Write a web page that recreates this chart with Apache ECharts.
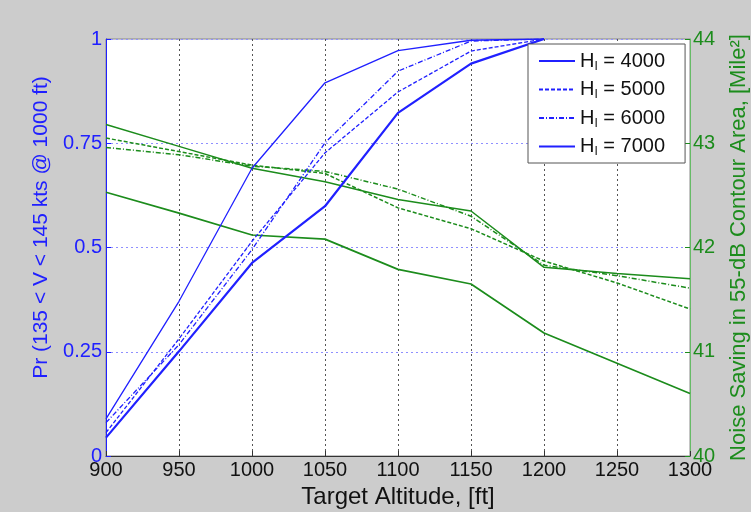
<!DOCTYPE html>
<html style="height: 100%">
<head>
    <meta charset="utf-8">
    <script src="https://cdn.jsdelivr.net/npm/echarts@6/dist/echarts.min.js"></script>
</head>
<body style="height: 100%; margin: 0; background: #cccccc">
    <div id="main" style="width: 751px; height: 512px"></div>
    <script type="text/javascript">
        // target altitude (ft)
        var altPr = [900, 950, 1000, 1050, 1100, 1150, 1200];
        var altNoise = [900, 950, 1000, 1050, 1100, 1150, 1200, 1250, 1300];

        // probability curves, left axis
        var prH4000 = [0.089, 0.371, 0.69, 0.895, 0.972, 0.997, 1];
        var prH5000 = [0.056, 0.281, 0.515, 0.727, 0.873, 0.971, 1];
        var prH6000 = [0.08, 0.267, 0.495, 0.751, 0.923, 0.995, 1];
        var prH7000 = [0.044, 0.251, 0.463, 0.599, 0.823, 0.941, 1];

        // noise saving curves, right axis (Mile^2)
        var noiseH4000 = [43.18, 42.97, 42.76, 42.63, 42.46, 42.35, 41.81, 41.75, 41.70];
        var noiseH5000 = [43.05, 42.92, 42.79, 42.71, 42.38, 42.18, 41.87, 41.66, 41.41];
        var noiseH6000 = [42.96, 42.89, 42.78, 42.73, 42.56, 42.30, 41.83, 41.73, 41.61];
        var noiseH7000 = [42.53, 42.33, 42.12, 42.08, 41.79, 41.65, 41.18, 40.89, 40.60];

        var legendNames = ['H4000', 'H5000', 'H6000', 'H7000'];

        var blue = '#2020ff';
        var green = '#1c8c1c';
        var font = 'Liberation Sans, Arial, sans-serif';

        function pairs(xs, ys) {
            return xs.map(function (x, i) { return [x, ys[i]]; });
        }

        function prLine(name, ys, type, width) {
            return {
                name: name, type: 'line', yAxisIndex: 0, symbol: 'none',
                data: pairs(altPr, ys),
                lineStyle: { color: blue, width: width, type: type },
                itemStyle: { color: blue },
                z: 3
            };
        }

        function noiseLine(ys, type, width) {
            return {
                type: 'line', yAxisIndex: 1, symbol: 'none',
                data: pairs(altNoise, ys),
                lineStyle: { color: green, width: width, type: type },
                itemStyle: { color: green },
                z: 2
            };
        }

        var myChart = echarts.init(document.getElementById('main'));

        var option = {
            backgroundColor: '#cccccc',
            animation: false,
            textStyle: { fontFamily: font },
            grid: {
                left: 106, right: 61, top: 39, bottom: 56,
                outerBoundsMode: 'none',
                show: true, backgroundColor: '#ffffff',
                borderColor: '#888888', borderWidth: 1
            },
            legend: {
                data: legendNames,
                orient: 'vertical',
                left: 528, top: 44,
                backgroundColor: '#ffffff',
                borderColor: '#555555', borderWidth: 1, borderRadius: 0,
                padding: [7, 20, 5, 10],
                itemWidth: 36, itemHeight: 14, itemGap: 7,
                itemStyle: { opacity: 0 },
                formatter: function (name) {
                    return 'H{s|I} = ' + name.slice(1);
                },
                textStyle: {
                    fontSize: 20, color: '#111111', fontFamily: font,
                    rich: { s: { fontSize: 12, verticalAlign: 'bottom', padding: [11, 0, 0, 0] } }
                }
            },
            xAxis: {
                type: 'value', min: 900, max: 1300, interval: 50,
                name: 'Target Altitude, [ft]',
                nameLocation: 'middle', nameGap: 28,
                nameTextStyle: { fontSize: 24, color: '#111111' },
                axisLine: { lineStyle: { color: '#333333' } },
                axisTick: { inside: true, length: 5, lineStyle: { color: '#333333' } },
                axisLabel: {
                    fontSize: 20, color: '#111111', margin: 4,
                    formatter: function (v) { return String(v); }
                },
                splitLine: { show: true, lineStyle: { color: '#555555', type: [2, 3], width: 1 } }
            },
            yAxis: [
                {
                    type: 'value', min: 0, max: 1, interval: 0.25,
                    name: 'Pr (135 < V < 145 kts @ 1000 ft)',
                    nameLocation: 'middle', nameGap: 50,
                    nameTextStyle: { fontSize: 21, color: blue, padding: [0, 0, 0, 40] },
                    axisLine: { show: true, lineStyle: { color: blue } },
                    axisTick: { inside: true, length: 5, lineStyle: { color: blue } },
                    axisLabel: { fontSize: 20, color: blue, margin: 4 },
                    splitLine: { show: true, lineStyle: { color: '#8f8fff', type: [2, 3], width: 1 } }
                },
                {
                    type: 'value', min: 40, max: 44, interval: 1,
                    position: 'right',
                    name: 'Noise Saving in 55-dB Contour Area, [Mile²]',
                    nameLocation: 'middle', nameGap: 38,
                    nameTextStyle: { fontSize: 22, color: green },
                    axisLine: { show: true, lineStyle: { color: '#66bb66' } },
                    axisTick: { inside: true, length: 5, lineStyle: { color: green } },
                    axisLabel: { fontSize: 20, color: green, margin: 3 },
                    splitLine: { show: false }
                }
            ],
            series: [
                prLine('H4000', prH4000, 'solid', 1.3),
                prLine('H5000', prH5000, [4, 2], 1.3),
                prLine('H6000', prH6000, [5, 2, 1, 2], 1.3),
                prLine('H7000', prH7000, 'solid', 2.2),
                noiseLine(noiseH4000, 'solid', 1.5),
                noiseLine(noiseH5000, [4, 2], 1.5),
                noiseLine(noiseH6000, [5, 2, 1, 2], 1.5),
                noiseLine(noiseH7000, 'solid', 1.7)
            ]
        };

        myChart.setOption(option);
    </script>
</body>
</html>
